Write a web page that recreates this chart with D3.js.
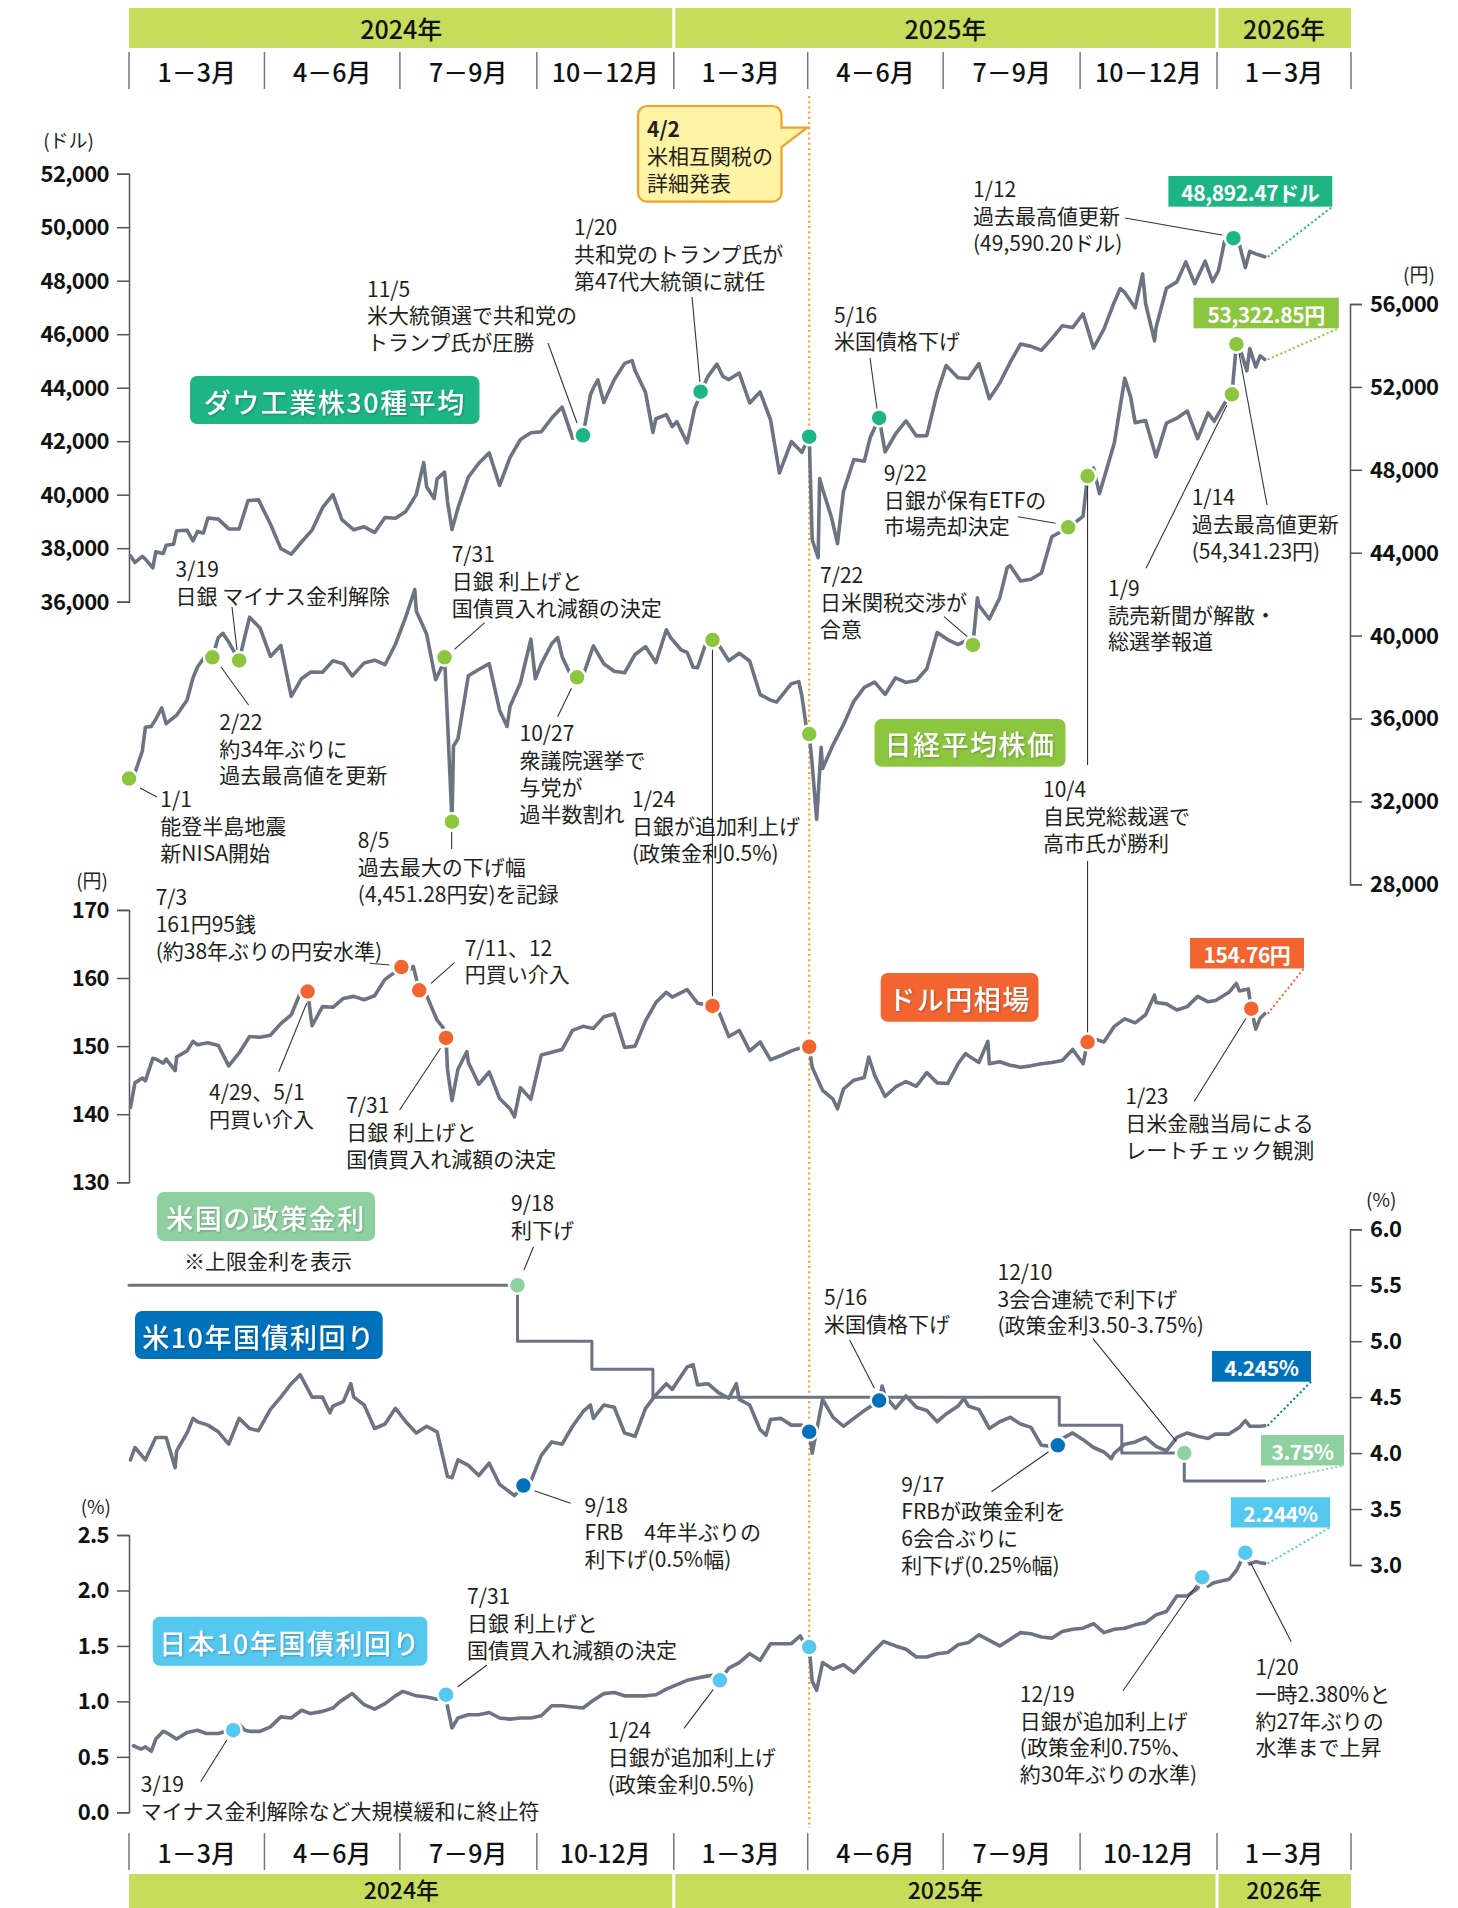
<!DOCTYPE html>
<html><head><meta charset="utf-8">
<script src="https://cdn.jsdelivr.net/npm/d3@7"></script>
<style>
body{margin:0;background:#fff;}
svg text{font-family:"Noto Sans CJK JP","Noto Sans",sans-serif;}
</style></head><body>
<svg id="c" width="1458" height="1908"></svg>
<script>
// ---------------- DATA ----------------
const yearLabels = ["2024年","2025年","2026年"];
const yearBounds = ["2024-01-01","2025-01-01","2026-01-01","2026-04-01"];
const quarterLabelsTop = ["1－3月","4－6月","7－9月","10－12月","1－3月","4－6月","7－9月","10－12月","1－3月"];
const quarterLabelsBottom = ["1－3月","4－6月","7－9月","10-12月","1－3月","4－6月","7－9月","10-12月","1－3月"];
const dowTicks = [36000,38000,40000,42000,44000,46000,48000,50000,52000];
const nikkeiTicks = [28000,32000,36000,40000,44000,48000,52000,56000];
const yenTicks = [130,140,150,160,170];
const usTicks = [3.0,3.5,4.0,4.5,5.0,5.5,6.0];
const jgbTicks = [0.0,0.5,1.0,1.5,2.0,2.5];

const dowSeries = [["2024-01-02",37715],["2024-01-05",37466],["2024-01-10",37695],["2024-01-12",37593],["2024-01-17",37267],["2024-01-19",37863],["2024-01-24",37806],["2024-01-26",38109],["2024-01-31",38150],["2024-02-02",38654],["2024-02-09",38671],["2024-02-13",38273],["2024-02-16",38628],["2024-02-20",38564],["2024-02-23",39131],["2024-03-01",39087],["2024-03-08",38723],["2024-03-15",38715],["2024-03-21",39781],["2024-03-28",39807],["2024-04-05",38904],["2024-04-12",37983],["2024-04-19",37775],["2024-04-26",38240],["2024-05-03",38676],["2024-05-10",39513],["2024-05-17",40004],["2024-05-23",39065],["2024-05-31",38686],["2024-06-07",38799],["2024-06-14",38589],["2024-06-21",39150],["2024-06-28",39119],["2024-07-05",39375],["2024-07-12",40001],["2024-07-17",41198],["2024-07-19",40288],["2024-07-24",39854],["2024-07-26",40590],["2024-07-31",40843],["2024-08-02",39737],["2024-08-05",38703],["2024-08-09",39497],["2024-08-16",40660],["2024-08-23",41175],["2024-08-30",41563],["2024-09-06",40345],["2024-09-13",41394],["2024-09-20",42063],["2024-09-27",42313],["2024-10-04",42352],["2024-10-11",42864],["2024-10-18",43275],["2024-10-25",42114],["2024-10-30",42142],["2024-11-06",43729],["2024-11-08",43989],["2024-11-11",44293],["2024-11-15",43445],["2024-11-22",44297],["2024-11-29",44910],["2024-12-04",45014],["2024-12-06",44642],["2024-12-13",43828],["2024-12-18",42326],["2024-12-20",42840],["2024-12-27",42992],["2024-12-31",42544],["2025-01-03",42732],["2025-01-10",41938],["2025-01-15",43221],["2025-01-17",43488],["2025-01-24",44424],["2025-01-30",44882],["2025-02-03",44422],["2025-02-07",44303],["2025-02-14",44546],["2025-02-21",43428],["2025-02-28",43841],["2025-03-07",42802],["2025-03-13",40813],["2025-03-21",41985],["2025-03-28",41583],["2025-04-04",38315],["2025-04-08",37645],["2025-04-09",40608],["2025-04-11",40213],["2025-04-17",39142],["2025-04-21",38170],["2025-04-25",40114],["2025-05-02",41317],["2025-05-09",41249],["2025-05-13",42140],["2025-05-23",41603],["2025-05-30",42270],["2025-06-06",42763],["2025-06-13",42198],["2025-06-20",42207],["2025-06-27",43819],["2025-07-03",44828],["2025-07-11",44371],["2025-07-18",44342],["2025-07-25",44902],["2025-08-01",43589],["2025-08-08",44176],["2025-08-15",44946],["2025-08-22",45632],["2025-08-29",45545],["2025-09-05",45401],["2025-09-12",45834],["2025-09-19",46315],["2025-09-26",46247],["2025-10-03",46758],["2025-10-10",45480],["2025-10-17",46191],["2025-10-24",47207],["2025-10-28",47706],["2025-10-31",47563],["2025-11-07",46987],["2025-11-12",48254],["2025-11-14",47147],["2025-11-20",45752],["2025-11-21",46245],["2025-11-28",47716],["2025-12-05",47955],["2025-12-11",48704],["2025-12-17",47886],["2025-12-24",48731],["2025-12-29",47963],["2026-01-02",48382],["2026-01-06",49462],["2026-01-09",49504],["2026-01-16",49359],["2026-01-20",48488],["2026-01-23",49098],["2026-01-27",49003],["2026-01-30",48950],["2026-02-02",48892.47]];

const nikkeiSeries = [["2024-01-04",33288],["2024-01-05",33377],["2024-01-10",34441],["2024-01-12",35577],["2024-01-16",35619],["2024-01-19",35963],["2024-01-23",36517],["2024-01-26",35751],["2024-02-02",36158],["2024-02-09",36897],["2024-02-13",37963],["2024-02-16",38487],["2024-02-22",39098],["2024-03-01",39910],["2024-03-04",40109],["2024-03-08",39688],["2024-03-19",40003],["2024-03-22",40888],["2024-03-29",40369],["2024-04-05",38992],["2024-04-12",39523],["2024-04-19",37068],["2024-04-26",37934],["2024-05-02",38236],["2024-05-10",38229],["2024-05-17",38787],["2024-05-24",38646],["2024-05-30",38054],["2024-06-07",38683],["2024-06-14",38814],["2024-06-21",38596],["2024-06-28",39583],["2024-07-05",40912],["2024-07-11",42224],["2024-07-12",41190],["2024-07-19",40063],["2024-07-25",37869],["2024-07-29",38468],["2024-08-02",35909],["2024-08-06",34675],["2024-08-09",35025],["2024-08-16",38062],["2024-08-23",38364],["2024-08-30",38648],["2024-09-06",36391],["2024-09-11",35620],["2024-09-13",36581],["2024-09-20",37723],["2024-09-27",39829],["2024-09-30",37919],["2024-10-04",38635],["2024-10-11",39605],["2024-10-15",39910],["2024-10-18",38982],["2024-10-25",37913],["2024-11-01",38053],["2024-11-08",39500],["2024-11-15",38642],["2024-11-22",38283],["2024-11-29",38208],["2024-12-06",39091],["2024-12-13",39470],["2024-12-20",38701],["2024-12-27",40281],["2024-12-30",39894],["2025-01-06",39307],["2025-01-10",39190],["2025-01-14",38474],["2025-01-17",38451],["2025-01-24",39931],["2025-01-31",39572],["2025-02-07",38787],["2025-02-14",39149],["2025-02-21",38776],["2025-02-28",37155],["2025-03-07",36887],["2025-03-11",36793],["2025-03-14",37053],["2025-03-21",37677],["2025-03-26",37780],["2025-03-28",37120],["2025-03-31",35617],["2025-04-04",33780],["2025-04-07",31136],["2025-04-10",34609],["2025-04-11",33586],["2025-04-18",34730],["2025-04-25",35705],["2025-05-02",36830],["2025-05-09",37503],["2025-05-16",37753],["2025-05-23",37160],["2025-05-30",37965],["2025-06-06",37741],["2025-06-13",37834],["2025-06-20",38403],["2025-06-27",40150],["2025-07-04",39811],["2025-07-11",39570],["2025-07-18",39819],["2025-07-24",41826],["2025-07-25",41456],["2025-08-01",40800],["2025-08-08",41820],["2025-08-13",43274],["2025-08-15",43378],["2025-08-22",42633],["2025-08-29",42718],["2025-09-05",43018],["2025-09-12",44768],["2025-09-19",45045],["2025-09-26",45355],["2025-10-03",45769],["2025-10-10",48088],["2025-10-14",46847],["2025-10-17",47582],["2025-10-24",49299],["2025-10-31",52411],["2025-11-04",51497],["2025-11-07",50276],["2025-11-14",50376],["2025-11-21",48625],["2025-11-28",50253],["2025-12-05",50491],["2025-12-12",50836],["2025-12-19",49507],["2025-12-26",50750],["2025-12-30",50339],["2026-01-06",51200],["2026-01-16",53936],["2026-01-21",52774],["2026-01-23",53846],["2026-01-27",52960],["2026-01-30",53500],["2026-02-02",53322.85]];

const yenSeries = [["2024-01-02",141.0],["2024-01-05",144.6],["2024-01-10",145.3],["2024-01-12",144.9],["2024-01-17",148.2],["2024-01-19",148.1],["2024-01-24",147.5],["2024-01-26",148.1],["2024-02-01",146.4],["2024-02-02",148.4],["2024-02-09",149.3],["2024-02-13",150.7],["2024-02-16",150.2],["2024-02-23",150.5],["2024-03-01",150.1],["2024-03-08",147.1],["2024-03-15",149.0],["2024-03-22",151.4],["2024-03-29",151.3],["2024-04-05",151.6],["2024-04-12",153.3],["2024-04-19",154.6],["2024-04-26",158.3],["2024-05-03",153.0],["2024-05-10",155.8],["2024-05-17",155.7],["2024-05-24",157.0],["2024-05-31",157.3],["2024-06-07",156.8],["2024-06-14",157.4],["2024-06-21",159.8],["2024-06-28",160.9],["2024-07-05",160.7],["2024-07-10",161.7],["2024-07-19",157.4],["2024-07-26",153.8],["2024-07-30",152.7],["2024-08-02",146.5],["2024-08-05",142.0],["2024-08-09",146.6],["2024-08-15",149.2],["2024-08-16",147.6],["2024-08-23",144.4],["2024-08-30",146.2],["2024-09-06",142.3],["2024-09-13",140.8],["2024-09-16",139.6],["2024-09-20",143.9],["2024-09-27",142.2],["2024-10-04",148.7],["2024-10-11",149.1],["2024-10-18",149.5],["2024-10-25",152.3],["2024-11-01",152.9],["2024-11-08",152.6],["2024-11-15",154.3],["2024-11-22",154.7],["2024-11-29",149.8],["2024-12-06",150.0],["2024-12-13",153.7],["2024-12-20",156.4],["2024-12-27",157.9],["2024-12-31",157.2],["2025-01-10",158.3],["2025-01-17",156.3],["2025-01-31",155.2],["2025-02-07",151.4],["2025-02-14",152.3],["2025-02-21",149.3],["2025-02-28",150.6],["2025-03-07",148.0],["2025-03-14",148.6],["2025-03-21",149.3],["2025-03-28",149.8],["2025-04-04",146.9],["2025-04-11",143.5],["2025-04-18",142.2],["2025-04-21",140.8],["2025-04-25",143.7],["2025-05-02",145.0],["2025-05-09",145.4],["2025-05-12",148.4],["2025-05-16",145.7],["2025-05-23",142.6],["2025-05-30",144.0],["2025-06-06",144.8],["2025-06-13",144.1],["2025-06-20",146.1],["2025-06-27",144.6],["2025-07-04",144.5],["2025-07-11",147.4],["2025-07-16",148.9],["2025-07-18",148.6],["2025-07-25",147.6],["2025-07-31",150.7],["2025-08-01",147.4],["2025-08-08",147.7],["2025-08-15",147.2],["2025-08-22",146.9],["2025-08-29",147.1],["2025-09-05",147.4],["2025-09-12",147.6],["2025-09-19",147.9],["2025-09-26",149.5],["2025-10-03",147.4],["2025-10-10",151.1],["2025-10-17",150.6],["2025-10-24",152.9],["2025-10-31",154.0],["2025-11-07",153.4],["2025-11-14",154.6],["2025-11-20",157.5],["2025-11-21",156.4],["2025-11-28",156.2],["2025-12-05",155.3],["2025-12-12",155.8],["2025-12-19",157.3],["2025-12-26",156.5],["2025-12-31",156.7],["2026-01-09",157.9],["2026-01-14",159.2],["2026-01-16",158.1],["2026-01-22",158.4],["2026-01-27",152.5],["2026-01-30",154.1],["2026-02-02",154.76]];

const usSeries = [["2024-01-02",3.94],["2024-01-05",4.05],["2024-01-12",3.94],["2024-01-19",4.14],["2024-01-26",4.14],["2024-02-01",3.87],["2024-02-02",4.02],["2024-02-09",4.18],["2024-02-13",4.31],["2024-02-16",4.28],["2024-02-23",4.25],["2024-03-01",4.19],["2024-03-08",4.08],["2024-03-15",4.31],["2024-03-22",4.22],["2024-03-28",4.20],["2024-04-05",4.39],["2024-04-12",4.50],["2024-04-19",4.62],["2024-04-25",4.70],["2024-05-03",4.50],["2024-05-10",4.50],["2024-05-15",4.36],["2024-05-17",4.42],["2024-05-24",4.46],["2024-05-29",4.62],["2024-05-31",4.50],["2024-06-07",4.43],["2024-06-14",4.22],["2024-06-21",4.26],["2024-06-28",4.40],["2024-07-05",4.28],["2024-07-12",4.18],["2024-07-19",4.24],["2024-07-26",4.19],["2024-08-02",3.79],["2024-08-05",3.78],["2024-08-09",3.94],["2024-08-16",3.89],["2024-08-23",3.80],["2024-08-30",3.91],["2024-09-06",3.72],["2024-09-13",3.65],["2024-09-16",3.62],["2024-09-27",3.75],["2024-10-04",3.98],["2024-10-11",4.10],["2024-10-18",4.08],["2024-10-25",4.24],["2024-11-01",4.37],["2024-11-06",4.43],["2024-11-08",4.31],["2024-11-15",4.43],["2024-11-22",4.41],["2024-11-29",4.18],["2024-12-06",4.15],["2024-12-13",4.40],["2024-12-20",4.52],["2024-12-27",4.62],["2024-12-31",4.57],["2025-01-10",4.77],["2025-01-14",4.79],["2025-01-17",4.61],["2025-01-24",4.62],["2025-01-31",4.54],["2025-02-07",4.49],["2025-02-12",4.62],["2025-02-14",4.48],["2025-02-21",4.43],["2025-02-28",4.21],["2025-03-04",4.16],["2025-03-07",4.30],["2025-03-14",4.31],["2025-03-21",4.25],["2025-03-28",4.25],["2025-04-04",4.00],["2025-04-11",4.48],["2025-04-18",4.32],["2025-04-25",4.24],["2025-05-02",4.31],["2025-05-09",4.38],["2025-05-16",4.44],["2025-05-21",4.60],["2025-05-23",4.51],["2025-05-30",4.40],["2025-06-06",4.51],["2025-06-13",4.41],["2025-06-20",4.38],["2025-06-27",4.28],["2025-07-03",4.35],["2025-07-11",4.42],["2025-07-15",4.49],["2025-07-18",4.42],["2025-07-25",4.39],["2025-08-01",4.22],["2025-08-08",4.28],["2025-08-15",4.32],["2025-08-22",4.26],["2025-08-29",4.23],["2025-09-05",4.07],["2025-09-12",4.06],["2025-09-19",4.13],["2025-09-26",4.18],["2025-10-03",4.12],["2025-10-10",4.05],["2025-10-17",4.01],["2025-10-22",3.95],["2025-10-24",4.00],["2025-10-31",4.08],["2025-11-07",4.10],["2025-11-14",4.14],["2025-11-21",4.06],["2025-11-28",4.02],["2025-12-05",4.14],["2025-12-12",4.18],["2025-12-19",4.15],["2025-12-26",4.13],["2025-12-31",4.17],["2026-01-09",4.17],["2026-01-16",4.23],["2026-01-20",4.29],["2026-01-23",4.24],["2026-01-30",4.24],["2026-02-02",4.245]];

const jgbSeries = [["2024-01-04",0.60],["2024-01-09",0.57],["2024-01-12",0.59],["2024-01-16",0.55],["2024-01-19",0.66],["2024-01-24",0.73],["2024-01-26",0.72],["2024-02-02",0.66],["2024-02-09",0.72],["2024-02-16",0.74],["2024-02-22",0.71],["2024-03-01",0.71],["2024-03-06",0.73],["2024-03-15",0.79],["2024-03-19",0.74],["2024-03-22",0.73],["2024-03-29",0.73],["2024-04-05",0.77],["2024-04-12",0.86],["2024-04-19",0.85],["2024-04-26",0.92],["2024-05-02",0.89],["2024-05-10",0.91],["2024-05-17",0.94],["2024-05-22",1.00],["2024-05-30",1.07],["2024-06-07",0.97],["2024-06-14",0.93],["2024-06-21",0.98],["2024-06-28",1.05],["2024-07-03",1.09],["2024-07-12",1.05],["2024-07-19",1.04],["2024-07-26",1.02],["2024-08-02",0.95],["2024-08-05",0.76],["2024-08-09",0.85],["2024-08-16",0.88],["2024-08-23",0.88],["2024-08-30",0.90],["2024-09-06",0.85],["2024-09-13",0.84],["2024-09-20",0.85],["2024-09-27",0.85],["2024-10-04",0.87],["2024-10-11",0.96],["2024-10-18",0.96],["2024-10-25",0.95],["2024-11-01",0.94],["2024-11-08",1.01],["2024-11-15",1.07],["2024-11-22",1.08],["2024-11-29",1.05],["2024-12-06",1.05],["2024-12-13",1.05],["2024-12-20",1.06],["2024-12-27",1.11],["2025-01-10",1.19],["2025-01-17",1.21],["2025-01-24",1.23],["2025-01-31",1.24],["2025-02-07",1.30],["2025-02-14",1.35],["2025-02-21",1.43],["2025-02-28",1.37],["2025-03-07",1.52],["2025-03-14",1.52],["2025-03-21",1.52],["2025-03-27",1.59],["2025-03-31",1.49],["2025-04-04",1.18],["2025-04-07",1.10],["2025-04-11",1.35],["2025-04-18",1.29],["2025-04-25",1.33],["2025-05-02",1.26],["2025-05-09",1.36],["2025-05-16",1.46],["2025-05-22",1.54],["2025-05-30",1.50],["2025-06-06",1.47],["2025-06-13",1.40],["2025-06-20",1.40],["2025-06-27",1.43],["2025-07-04",1.44],["2025-07-11",1.51],["2025-07-18",1.53],["2025-07-25",1.60],["2025-08-01",1.55],["2025-08-08",1.50],["2025-08-15",1.56],["2025-08-22",1.62],["2025-08-29",1.61],["2025-09-05",1.58],["2025-09-12",1.57],["2025-09-19",1.63],["2025-09-26",1.65],["2025-10-03",1.66],["2025-10-10",1.70],["2025-10-17",1.62],["2025-10-24",1.65],["2025-10-31",1.66],["2025-11-07",1.69],["2025-11-14",1.71],["2025-11-21",1.78],["2025-11-28",1.81],["2025-12-05",1.95],["2025-12-12",1.95],["2025-12-19",2.02],["2025-12-26",2.04],["2025-12-30",2.07],["2026-01-09",2.10],["2026-01-14",2.18],["2026-01-23",2.24],["2026-01-27",2.26],["2026-01-30",2.25],["2026-02-02",2.244]];

const fedSteps = [["2024-01-01",5.5],["2024-09-18",5.0],["2024-11-07",4.75],["2024-12-18",4.5],["2025-09-17",4.25],["2025-10-29",4.0],["2025-12-10",3.75],["2026-02-02",3.75]];

const dowMarkers = [["2024-11-01",42222],["2025-01-19",43850],["2025-04-02",42170],["2025-05-19",42870],["2026-01-12",49590.2]];
const nikkeiMarkers = [["2024-01-01",33100],["2024-02-26",38950],["2024-03-15",38800],["2024-07-31",38950],["2024-08-05",31020],["2024-10-28",37990],["2025-01-27",39790],["2025-04-02",35250],["2025-07-21",39550],["2025-09-23",45225],["2025-10-06",47700],["2026-01-11",51640],["2026-01-14",54060]];
const yenMarkers = [["2024-04-30",158.0],["2024-07-02",161.6],["2024-07-14",158.2],["2024-08-01",151.2],["2025-01-27",155.9],["2025-04-02",149.9],["2025-10-06",150.6],["2026-01-24",155.5]];
const fedMarkers = [["2024-09-18",5.5],["2025-12-10",4.0]];
const usMarkers = [["2024-09-22",3.71],["2025-04-02",4.19],["2025-05-19",4.47],["2025-09-16",4.07]];
const jgbMarkers = [["2024-03-11",0.74],["2024-08-01",1.06],["2025-02-01",1.19],["2025-04-02",1.49],["2025-12-22",2.12],["2026-01-20",2.34]];

const lastLabels = ["48,892.47ドル","53,322.85円","154.76円","4.245%","3.75%","2.244%"];

// ---------------- SETUP ----------------
const parse = d3.timeParse("%Y-%m-%d");
const svg = d3.select("#c");
const FONT = '"Noto Sans CJK JP","Noto Sans",sans-serif';
const C = {dow:"#1db584", nk:"#8cc63f", fx:"#f26531", fed:"#8fd0a0", us:"#0072bc", jp:"#55c8f0", bar:"#c8dc5b", line:"#6c7484", text:"#231f20", axis:"#555"};

const x = d3.scaleTime().domain([parse("2024-01-01"), parse("2026-04-01")]).range([129,1351]);
const yDow = d3.scaleLinear().domain([36000,52000]).range([601.7,173.7]);
const yNk = d3.scaleLinear().domain([28000,56000]).range([884.3,304]);
const yFx = d3.scaleLinear().domain([130,170]).range([1182.3,909.9]);
const yUs = d3.scaleLinear().domain([3,6]).range([1565,1229.3]);
const yJp = d3.scaleLinear().domain([0,2.5]).range([1812.3,1535]);

function merge(series, markers){
  const m = new Map();
  series.forEach(([d,v])=>m.set(d,v));
  markers.forEach(([d,v])=>m.set(d,v));
  return Array.from(m, ([d,v])=>({date:parse(d), value:v})).sort((a,b)=>a.date-b.date);
}

// --------------- HEADER / FOOTER ---------------
function header(barTop, barBot, divTop, divBot, qY, yearY, qLabels, yearSize){
  const g = svg.append("g");
  for(let i=0;i<yearLabels.length;i++){
    const a = x(parse(yearBounds[i])), b = x(parse(yearBounds[i+1]));
    const x0 = a + (i>0?1.5:0), x1 = b - (i<yearLabels.length-1?1.5:0);
    g.append("rect").attr("x",x0).attr("y",barTop).attr("width",x1-x0).attr("height",barBot-barTop).attr("fill",C.bar);
    g.append("text").attr("x",(a+b)/2).attr("y",yearY).attr("text-anchor","middle").attr("dominant-baseline","central")
      .attr("font-size",yearSize).attr("font-weight",500).attr("fill","#111").text(yearLabels[i]);
  }
  const qs = d3.timeMonth.every(3).range(parse("2024-01-01"), parse("2026-04-02"));
  qs.forEach(d=>{
    g.append("line").attr("x1",x(d)).attr("x2",x(d)).attr("y1",divTop).attr("y2",divBot).attr("stroke","#777").attr("stroke-width",1.5);
  });
  for(let i=0;i<qs.length-1;i++){
    g.append("text").attr("x",(x(qs[i])+x(qs[i+1]))/2).attr("y",qY).attr("text-anchor","middle").attr("dominant-baseline","central")
      .attr("font-size",25).attr("font-weight",500).attr("fill","#111").text(qLabels[i]);
  }
}
header(8, 48, 52, 89, 71, 28, quarterLabelsTop, 25);
header(1874, 1912, 1833, 1870, 1852, 1889, quarterLabelsBottom, 23);

// dotted orange line 4/2
const x42 = x(parse("2025-04-02"));
svg.append("line").attr("x1",x42).attr("x2",x42).attr("y1",96).attr("y2",1828)
  .attr("stroke","#f5a02a").attr("stroke-width",2.2).attr("stroke-dasharray","2,3.2");

// --------------- AXES ---------------
function axis(side, scale, ticks, fmt, xpos, unit, ux, uy, uanchor){
  const ax = (side==="left"? d3.axisLeft(scale) : d3.axisRight(scale)).tickValues(ticks).tickFormat(fmt).tickSize(12).tickPadding(8);
  const g = svg.append("g").attr("transform",`translate(${xpos},0)`).call(ax);
  g.attr("font-family",null).attr("font-size",null);
  g.select(".domain").attr("stroke",C.axis).attr("stroke-width",1.5);
  g.selectAll(".tick line").attr("stroke",C.axis).attr("stroke-width",1.5);
  g.selectAll(".tick text").attr("font-family",FONT).attr("font-size",22).attr("font-weight",700).attr("fill","#111").attr("letter-spacing","-0.6").attr("dy","0.34em");
  svg.append("text").attr("x",ux).attr("y",uy).attr("text-anchor",uanchor).attr("dominant-baseline","central")
    .attr("font-size",19).attr("fill",C.text).text(unit);
}
axis("left", yDow, dowTicks, d3.format(","), 129, "(ドル)", 94, 139, "end");
axis("right", yNk, nikkeiTicks, d3.format(","), 1350, "(円)", 1403, 273, "start");
axis("left", yFx, yenTicks, d3.format("d"), 129, "(円)", 108, 879, "end");
axis("right", yUs, usTicks, d3.format(".1f"), 1350, "(%)", 1366, 1198, "start");
axis("left", yJp, jgbTicks, d3.format(".1f"), 129, "(%)", 111, 1505, "end");

// --------------- LINES ---------------
function drawLine(data, y, curve, w){
  const line = d3.line().x(d=>x(d.date)).y(d=>y(d.value)).curve(curve||d3.curveLinear);
  svg.append("path").datum(data).attr("d",line).attr("fill","none").attr("stroke",C.line)
    .attr("stroke-width",w||3.6).attr("stroke-linejoin","round").attr("stroke-linecap","round");
}
const dowData = merge(dowSeries, dowMarkers);
const nkData = merge(nikkeiSeries, nikkeiMarkers);
const fxData = merge(yenSeries, yenMarkers);
const usData = merge(usSeries, usMarkers);
const jpData = merge(jgbSeries, jgbMarkers);
const fedData = fedSteps.map(([d,v])=>({date:parse(d), value:v}));

drawLine(fedData, yUs, d3.curveStepAfter, 3);
drawLine(dowData, yDow);
drawLine(nkData, yNk);
drawLine(fxData, yFx);
drawLine(usData, yUs);
drawLine(jpData, yJp);

// --------------- ANNOTATIONS ---------------
const notes = [
 {l:["11/5","米大統領選で共和党の","トランプ氏が圧勝"],x:367,y:287.5,ld:[548,343,577,423]},
 {l:["1/20","共和党のトランプ氏が","第47代大統領に就任"],x:574,y:226,ld:[692,297,700,383]},
 {l:["5/16","米国債格下げ"],x:834,y:313.5,ld:[870,358,877,409]},
 {l:["1/12","過去最高値更新","(49,590.20ドル)"],x:973,y:188,ld:[1125,218,1222,235]},
 {l:["3/19","日銀 マイナス金利解除"],x:175.6,y:568.3,ld:[232,607,237,650]},
 {l:["2/22","約34年ぶりに","過去最高値を更新"],x:219.3,y:720.7,ld:[248.6,705,221,667]},
 {l:["1/1","能登半島地震","新NISA開始"],x:160.3,y:798.3,ld:[157,797,140,788]},
 {l:["7/31","日銀 利上げと","国債買入れ減額の決定"],x:451.7,y:553.3,ld:[484.7,622.7,454.5,649.3]},
 {l:["8/5","過去最大の下げ幅","(4,451.28円安)を記録"],x:357.8,y:839.3,ld:[451.7,832,451.7,849]},
 {l:["10/27","衆議院選挙で","与党が","過半数割れ"],x:519.5,y:732.3,ld:[557.6,716.7,571.5,688.3]},
 {l:["1/24","日銀が追加利上げ","(政策金利0.5%)"],x:632,y:798.3},
 {l:["7/22","日米関税交渉が","合意"],x:820,y:574,ld:[944,616.7,967.3,636.7]},
 {l:["9/22","日銀が保有ETFの","市場売却決定"],x:883.7,y:471.7,ld:[1018,516.7,1055.6,523.3]},
 {l:["10/4","自民党総裁選で","高市氏が勝利"],x:1043,y:788.3},
 {l:["1/9","読売新聞が解散・","総選挙報道"],x:1108,y:586.7,ld:[1146,568.3,1227,405]},
 {l:["1/14","過去最高値更新","(54,341.23円)"],x:1191.7,y:496,ld:[1267,505,1239,353]},
 {l:["7/3","161円95銭","(約38年ぶりの円安水準)"],x:155.7,y:896,ld:[369.4,963.3,389.4,965]},
 {l:["7/11、12","円買い介入"],x:464.7,y:946.5,ld:[454.5,962.7,431,983.3]},
 {l:["4/29、5/1","円買い介入"],x:209,y:1090.7,ld:[278.8,1071.7,306.7,1003.3]},
 {l:["7/31","日銀 利上げと","国債買入れ減額の決定"],x:346.2,y:1104,ld:[399.6,1110,440.5,1048.3]},
 {l:["1/23","日米金融当局による","レートチェック観測"],x:1125.3,y:1095,ld:[1194,1101.7,1246,1018.3]},
 {l:["9/18","利下げ"],x:511,y:1201.7,ld:[533.5,1246.7,524,1270]},
 {l:["12/10","3会合連続で利下げ","(政策金利3.50-3.75%)"],x:997.5,y:1270.7,ld:[1092.8,1338.3,1176.4,1441.7]},
 {l:["9/18","FRB　4年半ぶりの","利下げ(0.5%幅)"],x:584.6,y:1504,ld:[570.6,1503.3,534.4,1490.7]},
 {l:["5/16","米国債格下げ"],x:824,y:1296,ld:[849.7,1340,874.4,1388.3]},
 {l:["9/17","FRBが政策金利を","6会合ぶりに","利下げ(0.25%幅)"],x:901.3,y:1483.3,ld:[991.5,1491.7,1048.6,1451.7]},
 {l:["3/19","マイナス金利解除など大規模緩和に終止符"],x:140.8,y:1783.3,ld:[200.7,1781.7,226.8,1740]},
 {l:["7/31","日銀 利上げと","国債買入れ減額の決定"],x:467,y:1595,ld:[487,1665,457.7,1686.7]},
 {l:["1/24","日銀が追加利上げ","(政策金利0.5%)"],x:607.8,y:1729.3,ld:[684,1728.3,713.3,1689.3]},
 {l:["12/19","日銀が追加利上げ","(政策金利0.75%、","約30年ぶりの水準)"],x:1019.8,y:1692.7,ld:[1123,1690.7,1197.3,1584]},
 {l:["1/20","一時2.380%と","約27年ぶりの","水準まで上昇"],x:1255.4,y:1666,ld:[1291.2,1641.7,1250.8,1563.3]}
];
const leadG = svg.append("g").attr("stroke","#333").attr("stroke-width",1.1);
notes.forEach(n=>{
  if(n.ld) leadG.append("line").attr("x1",n.ld[0]).attr("y1",n.ld[1]).attr("x2",n.ld[2]).attr("y2",n.ld[3]);
});
// vertical leaders (1/24 and 10/4)
const x124 = x(parse("2025-01-27")), x104 = x(parse("2025-10-06"));
leadG.append("line").attr("x1",x124).attr("x2",x124).attr("y1",yNk(39790)+9).attr("y2",yFx(155.9)-9);
leadG.append("line").attr("x1",x104).attr("x2",x104).attr("y1",yNk(47700)+9).attr("y2",765);
leadG.append("line").attr("x1",x104).attr("x2",x104).attr("y1",861).attr("y2",yFx(150.6)-9);

// --------------- MARKERS ---------------
function markers(arr, y, color){
  svg.append("g").selectAll("circle").data(arr.map(([d,v])=>({date:parse(d), value:v}))).join("circle")
    .attr("cx",d=>x(d.date)).attr("cy",d=>y(d.value)).attr("r",8.5)
    .attr("fill",color).attr("stroke","#fff").attr("stroke-width",2.5);
}
markers(dowMarkers, yDow, C.dow);
markers(nikkeiMarkers, yNk, C.nk);
markers(yenMarkers, yFx, C.fx);
markers(fedMarkers, yUs, C.fed);
markers(usMarkers, yUs, C.us);
markers(jgbMarkers, yJp, C.jp);

// --------------- TEXT NOTES ---------------
notes.forEach(n=>{
  const t = svg.append("text").attr("font-size",21).attr("fill",C.text);
  n.l.forEach((s,i)=>{
    t.append("tspan").attr("x",n.x).attr("y",n.y+i*26.8).attr("dominant-baseline","central").text(s);
  });
});
svg.append("text").attr("x",184).attr("y",1260).attr("dominant-baseline","central").attr("font-size",21).attr("fill",C.text).text("※上限金利を表示");

// --------------- LAST VALUE BOXES ---------------
const ends = [
 {data:dowData, y:yDow, c:C.dow, box:[1168.4,176,1332.3,206.7]},
 {data:nkData, y:yNk, c:C.nk, box:[1193.5,297.7,1338.8,328.3]},
 {data:fxData, y:yFx, c:C.fx, box:[1190,938,1304,968.5]},
 {data:usData, y:yUs, c:C.us, box:[1212,1351,1311,1381.7]},
 {data:fedData, y:yUs, c:C.fed, box:[1261,1435,1344,1465.5]},
 {data:jpData, y:yJp, c:C.jp, box:[1230.8,1497.3,1330,1527.5]}
];
ends.forEach((e,i)=>{
  const last = e.data[e.data.length-1];
  const b = e.box;
  svg.append("line").attr("x1",x(last.date)+3).attr("y1",e.y(last.value)).attr("x2",b[2]).attr("y2",b[3])
    .attr("stroke",e.c).attr("stroke-width",2).attr("stroke-dasharray","2,2.6");
  svg.append("rect").attr("x",b[0]).attr("y",b[1]).attr("width",b[2]-b[0]).attr("height",b[3]-b[1]).attr("fill",e.c);
  svg.append("text").attr("x",(b[0]+b[2])/2).attr("y",(b[1]+b[3])/2+1).attr("text-anchor","middle").attr("dominant-baseline","central")
    .attr("font-size",21).attr("font-weight",700).attr("fill","#fff").attr("letter-spacing","-0.4").text(lastLabels[i]);
});

// --------------- SERIES NAME PILLS ---------------
const pills = [
 {t:"ダウ工業株30種平均", c:C.dow, r:[190,376,479.5,424]},
 {t:"日経平均株価", c:C.nk, r:[874.6,719,1065.5,766.7]},
 {t:"ドル円相場", c:C.fx, r:[880.7,973,1038.5,1021.7]},
 {t:"米国の政策金利", c:C.fed, r:[157,1192,375,1241]},
 {t:"米10年国債利回り", c:C.us, r:[135,1311,382.7,1359]},
 {t:"日本10年国債利回り", c:C.jp, r:[152.7,1616.7,427.4,1665.7]}
];
const defs = svg.append("defs");
defs.append("filter").attr("id","sh").append("feDropShadow").attr("dx",1).attr("dy",1).attr("stdDeviation",0.8).attr("flood-color","#000").attr("flood-opacity",0.25);
pills.forEach(p=>{
  const r=p.r;
  svg.append("rect").attr("x",r[0]).attr("y",r[1]).attr("width",r[2]-r[0]).attr("height",r[3]-r[1]).attr("rx",7).attr("fill",p.c);
  svg.append("text").attr("x",(r[0]+r[2])/2).attr("y",(r[1]+r[3])/2+1).attr("text-anchor","middle").attr("dominant-baseline","central")
    .attr("font-size",27).attr("font-weight",500).attr("fill","#fff").attr("letter-spacing","1.5").attr("filter","url(#sh)").text(p.t);
});

// --------------- 4/2 CALLOUT ---------------
const cb = {x0:638, y0:106, x1:781.5, y1:201.7, r:9};
const tipX = x42 - 2, tipY = 127.7;
const p = d3.path();
p.moveTo(cb.x0+cb.r, cb.y0);
p.lineTo(cb.x1-cb.r, cb.y0);
p.arcTo(cb.x1, cb.y0, cb.x1, cb.y0+cb.r, cb.r);
p.lineTo(cb.x1, tipY);
p.lineTo(tipX, tipY);
p.lineTo(cb.x1, 147);
p.lineTo(cb.x1, cb.y1-cb.r);
p.arcTo(cb.x1, cb.y1, cb.x1-cb.r, cb.y1, cb.r);
p.lineTo(cb.x0+cb.r, cb.y1);
p.arcTo(cb.x0, cb.y1, cb.x0, cb.y1-cb.r, cb.r);
p.lineTo(cb.x0, cb.y0+cb.r);
p.arcTo(cb.x0, cb.y0, cb.x0+cb.r, cb.y0, cb.r);
p.closePath();
svg.append("path").attr("d",p.toString()).attr("fill","#fff3a6").attr("stroke","#f5a02a").attr("stroke-width",2.2);
const ct = svg.append("text").attr("fill",C.text).attr("font-size",21);
ct.append("tspan").attr("x",647).attr("y",128).attr("dominant-baseline","central").attr("font-weight",700).text("4/2");
ct.append("tspan").attr("x",647).attr("y",155).attr("dominant-baseline","central").text("米相互関税の");
ct.append("tspan").attr("x",647).attr("y",181.7).attr("dominant-baseline","central").text("詳細発表");
</script></body></html>
